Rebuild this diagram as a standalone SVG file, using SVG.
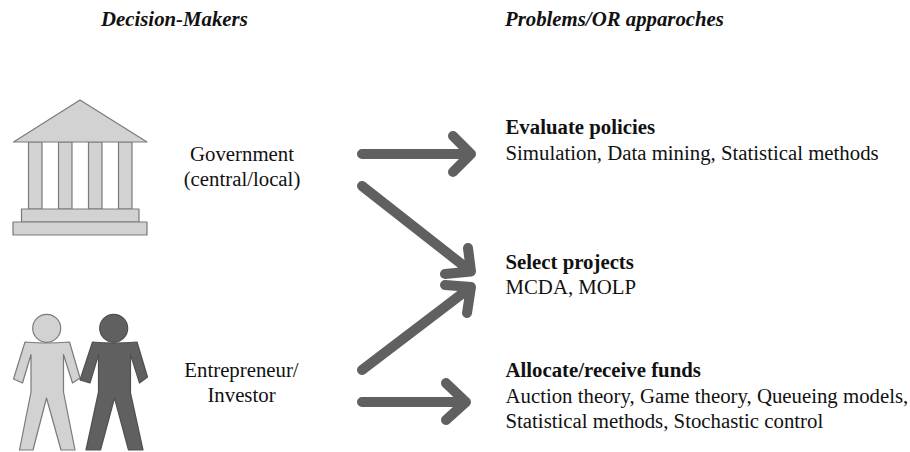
<svg xmlns="http://www.w3.org/2000/svg" width="910" height="452" viewBox="0 0 910 452">
<style>
text{font-family:"Liberation Serif","Times New Roman",serif;font-size:20.800px;fill:#111}
.h{font-weight:bold;font-style:italic}
.b{font-weight:bold}
.m{text-anchor:middle}
.g{fill:#d2d2d2;stroke:#7a7a7a;stroke-width:1.2;stroke-linejoin:round}
.d{fill:#606060;stroke:#505050;stroke-width:1.2;stroke-linejoin:round}
.a{fill:none;stroke:#606060;stroke-width:10;stroke-linecap:round;stroke-linejoin:round}
</style>
<rect width="910" height="452" fill="#fff"/>
<g id="heading-left"><text class="h" x="101" y="26">Decision-Makers</text></g>
<g id="heading-right"><text class="h" x="505" y="26">Problems/OR apparoches</text></g>
<g id="government-icon">
<rect class="g" x="28.500" y="142" width="13.500" height="67"/>
<rect class="g" x="58.500" y="142" width="13.500" height="67"/>
<rect class="g" x="88.500" y="142" width="13.500" height="67"/>
<rect class="g" x="118.500" y="142" width="13.500" height="67"/>
<polygon class="g" points="80,100 13.500,142 147,142"/>
<rect class="g" x="21.500" y="209" width="117.500" height="13"/>
<rect class="g" x="13" y="222" width="134" height="13"/>
</g>
<g id="government"><text class="m" x="242" y="161">Government</text><text class="m" x="242" y="186">(central/local)</text></g>
<g id="people-icon">
<g id="person-light"><circle class="g" cx="46.700" cy="328.300" r="14"/>
<path class="g" d="M25 342Q46 344 69.500 342L80 378L72.500 383L63.500 354.500V392L75 450H61L46.500 398L33 450H19.500L31 392V354.500L22.500 383L13.500 379Z"/></g>
<g id="person-dark"><circle class="d" cx="113.700" cy="328.300" r="14"/>
<path class="d" d="M92.500 342Q114 344 137 342L147.500 377L139.500 383L130.500 354.500V393L143 450H128.500L114.500 398L100.500 450H86L98.500 392V354.500L90 383L80 380Z"/></g>
</g>
<g id="investor"><text class="m" x="241.500" y="377">Entrepreneur/</text><text class="m" x="241.500" y="402">Investor</text></g>
<g id="connectors">
<path class="a" d="M362 154H471M453 136L471 154L453 172"/>
<path class="a" d="M362 186L471 271.500M468 248L471 271.500L445 274"/>
<path class="a" d="M362 370L471 287M445 285L471 287L467 313"/>
<path class="a" d="M362 402H466M446 383L466 402L446 420"/>
</g>
<g id="evaluate"><text class="b" x="505.500" y="134">Evaluate policies</text><text x="505.500" y="160">Simulation, Data mining, Statistical methods</text></g>
<g id="select"><text class="b" x="505.500" y="269">Select projects</text><text x="505.500" y="294">MCDA, MOLP</text></g>
<g id="allocate"><text class="b" x="505.500" y="377">Allocate/receive funds</text><text x="505.500" y="403">Auction theory, Game theory, Queueing models,</text><text x="505.500" y="428">Statistical methods, Stochastic control</text></g>
</svg>
